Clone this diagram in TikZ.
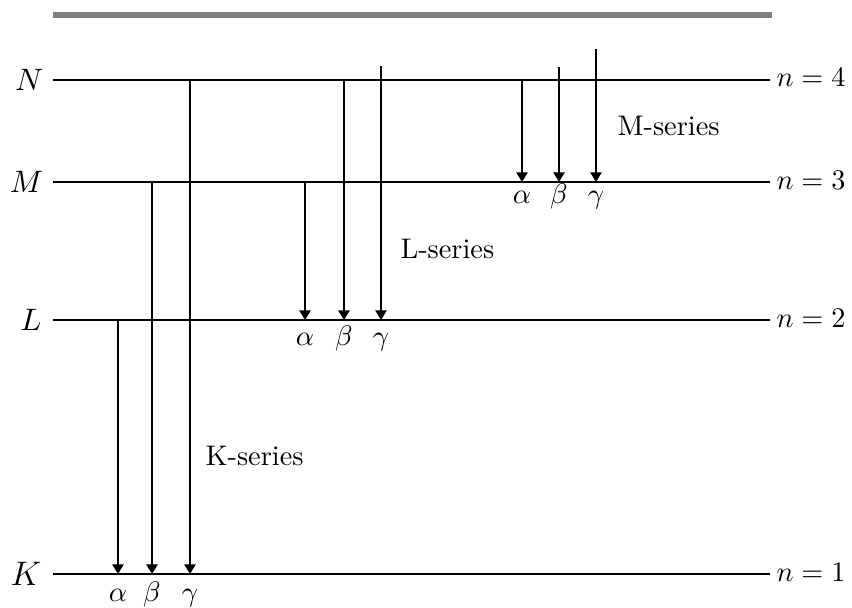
\documentclass[tikz,border=0pt]{standalone}
\usetikzlibrary{arrows.meta}
\begin{document}
\begin{tikzpicture}[x=0.3528pt,y=-0.3528pt,
  level/.style={line width=0.5pt},
  bar/.style={line width=2.3pt,color=gray},
  trans/.style={line width=0.5pt,-{Triangle[length=3.4pt,width=4pt]}},
  lvlname/.style={anchor=east,inner sep=0pt,font=\fontsize{11}{13}\selectfont},
  qn/.style={anchor=base west,inner sep=0pt},
  greek/.style={anchor=base,inner sep=0pt},
  series/.style={anchor=base west,inner sep=0pt}]
\useasboundingbox (0,0) rectangle (852,607);

% top bar
\coordinate (barL) at (53,15);
\coordinate (barR) at (772,15);
\draw[bar] (barL) -- (barR);

% levels
\coordinate (NL) at (53,80);  \coordinate (NR) at (770,80);
\coordinate (ML) at (53,182); \coordinate (MR) at (770,182);
\coordinate (LL) at (53,320); \coordinate (LR) at (770,320);
\coordinate (KL) at (53,574); \coordinate (KR) at (770,574);
\draw[level] (NL) -- (NR);
\draw[level] (ML) -- (MR);
\draw[level] (LL) -- (LR);
\draw[level] (KL) -- (KR);

% level names
\node[lvlname] (nN) at (44,80) {$N$};
\node[lvlname] (nM) at (44,182) {$M$};
\node[lvlname] (nL) at (42,320) {$L$};
\node[lvlname,font=\fontsize{12.5}{15}\selectfont] (nK) at (42,574) {$K$};

% quantum numbers
\node[qn] (q4) at (776,86) {$n=4$};
\node[qn] (q3) at (776,189) {$n=3$};
\node[qn] (q2) at (776,327) {$n=2$};
\node[qn] (q1) at (776,581) {$n=1$};

% K-series
\coordinate (Kas) at (118,320); \coordinate (Kae) at (118,574);
\coordinate (Kbs) at (152,182); \coordinate (Kbe) at (152,574);
\coordinate (Kgs) at (190,80);  \coordinate (Kge) at (190,574);
\draw[trans] (Kas) -- (Kae);
\draw[trans] (Kbs) -- (Kbe);
\draw[trans] (Kgs) -- (Kge);
\node[greek] (Ka) at (118,601) {$\alpha$};
\node[greek] (Kb) at (152,601) {$\beta$};
\node[greek] (Kg) at (190,601) {$\gamma$};
\node[series] (Kser) at (205,465) {K-series};

% L-series
\coordinate (Las) at (305,182); \coordinate (Lae) at (305,320);
\coordinate (Lbs) at (344,80);  \coordinate (Lbe) at (344,320);
\coordinate (Lgs) at (381,66);  \coordinate (Lge) at (381,320);
\draw[trans] (Las) -- (Lae);
\draw[trans] (Lbs) -- (Lbe);
\draw[trans] (Lgs) -- (Lge);
\node[greek] (La) at (305,345) {$\alpha$};
\node[greek] (Lb) at (344,345) {$\beta$};
\node[greek] (Lg) at (381,345) {$\gamma$};
\node[series] (Lser) at (400,258) {L-series};

% M-series
\coordinate (Mas) at (522,80);  \coordinate (Mae) at (522,182);
\coordinate (Mbs) at (559,67);  \coordinate (Mbe) at (559,182);
\coordinate (Mgs) at (596,49);  \coordinate (Mge) at (596,182);
\draw[trans] (Mas) -- (Mae);
\draw[trans] (Mbs) -- (Mbe);
\draw[trans] (Mgs) -- (Mge);
\node[greek] (Ma) at (522,203) {$\alpha$};
\node[greek] (Mb) at (559,203) {$\beta$};
\node[greek] (Mg) at (596,203) {$\gamma$};
\node[series] (Mser) at (617,135) {M-series};
\end{tikzpicture}
\end{document}
